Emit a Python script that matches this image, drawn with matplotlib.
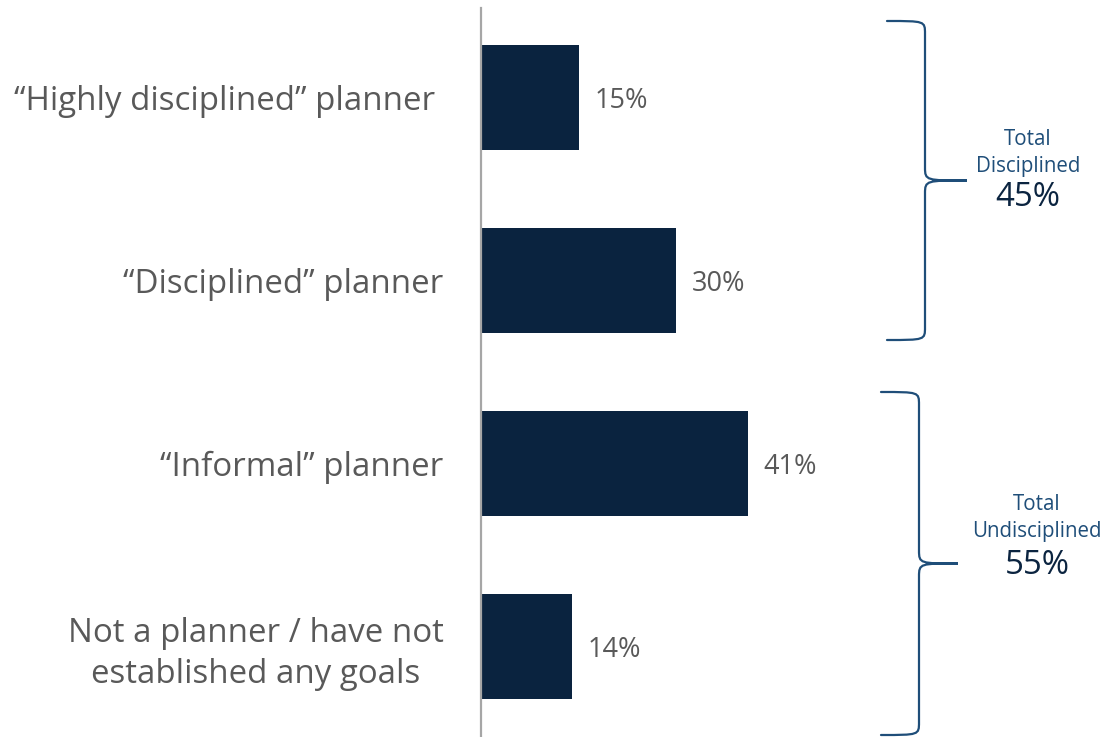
import matplotlib
matplotlib.use("Agg")
import matplotlib.pyplot as plt
from matplotlib.path import Path
from matplotlib.patches import PathPatch

categories = ["\u201cHighly disciplined\u201d planner ",
              "\u201cDisciplined\u201d planner",
              "\u201cInformal\u201d planner",
              "Not a planner / have not\nestablished any goals"]
values = [15, 30, 41, 14]
group_titles = ["Total\nDisciplined", "Total\nUndisciplined"]
group_totals = ["45%", "55%"]

BAR = "#0A233F"
GREY_TXT = "#595959"
BRACE = "#1F4E79"

plt.rcParams["font.family"] = ["Open Sans", "DejaVu Sans"]

W, H = 1107, 737
fig = plt.figure(figsize=(W / 100, H / 100), dpi=100)
ax = fig.add_axes([481 / W, 0, 626 / W, (737 - 8) / H])

y = list(range(len(categories)))
ax.barh(y, values, height=0.574, color=BAR, zorder=2)
ax.set_xlim(0, 626 / 6.5)
ax.set_ylim((737 - 97.5) / 183, (8 - 97.5) / 183)

for s in ["top", "right", "bottom"]:
    ax.spines[s].set_visible(False)
ax.spines["left"].set_color("#A6A6A6")
ax.spines["left"].set_linewidth(1.6)
ax.set_xticks([])
ax.set_yticks(y)
ax.set_yticklabels(categories, fontsize=23.8, color=GREY_TXT)
ax.tick_params(axis="y", length=0, pad=27)
for t in ax.get_yticklabels():
    t.set_multialignment("center")
    t.set_linespacing(1.32)

for yi, v in zip(y, values):
    ax.annotate(f"{v}%", (v, yi), xytext=(11.5, 0), textcoords="offset points",
                ha="left", va="center_baseline", fontsize=19.5, color=GREY_TXT)


def brace(x_tip, x_stem, x_point, y0, y1, r=0.07, k=0.03):
    ym = (y0 + y1) / 2
    verts = [
        (x_tip, y0), (x_stem, y0), (x_stem, y0), (x_stem, y0 + r),
        (x_stem, ym - r),
        (x_stem, ym), (x_stem + k * (x_point - x_stem), ym), (x_point, ym),
        (x_stem + k * (x_point - x_stem), ym), (x_stem, ym), (x_stem, ym + r),
        (x_stem, y1 - r),
        (x_stem, y1), (x_stem, y1), (x_tip, y1),
    ]
    codes = [Path.MOVETO, Path.CURVE4, Path.CURVE4, Path.CURVE4,
             Path.LINETO,
             Path.CURVE4, Path.CURVE4, Path.CURVE4,
             Path.CURVE4, Path.CURVE4, Path.CURVE4,
             Path.LINETO,
             Path.CURVE4, Path.CURVE4, Path.CURVE4]
    ax.add_patch(PathPatch(Path(verts, codes), fill=False, edgecolor=BRACE,
                           lw=1.6, clip_on=False, capstyle="round"))


def px(xp):
    return (xp - 481) / 6.5


def py(yp):
    return (yp - 97.5) / 183


brace(px(887), px(925), px(967), py(21), py(340))
brace(px(881), px(919), px(958), py(392), py(735))

ax.text(px(1028), py(153), group_titles[0], ha="center", va="center",
        fontsize=14.8, color=BRACE, linespacing=1.35)
ax.text(px(1028), py(198), group_totals[0], ha="center", va="center",
        fontsize=23.8, color="#0B2440")
ax.text(px(1037), py(518), group_titles[1], ha="center", va="center",
        fontsize=14.8, color=BRACE, linespacing=1.35)
ax.text(px(1037), py(565), group_totals[1], ha="center", va="center",
        fontsize=23.8, color="#0B2440")

fig.savefig("out.png", dpi=100, facecolor="white")
